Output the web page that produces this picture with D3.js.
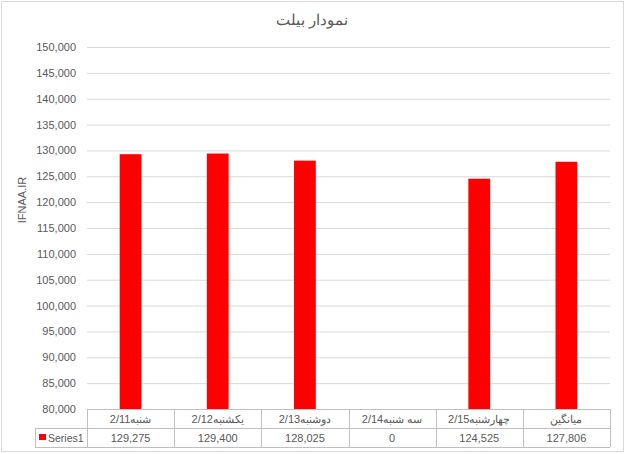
<!DOCTYPE html>
<html>
<head>
<meta charset="utf-8">
<script src="https://cdn.jsdelivr.net/npm/d3@7"></script>
<style>
  body { margin: 0; background: #fff; }
  text { font-family: "Liberation Sans", Arial, sans-serif; fill: #595959; }
</style>
</head>
<body>
<svg id="canvas"></svg>
<script>
// ---- data ----
let categories = ['شنبه2/11', 'یکشنبه2/12', 'دوشنبه2/13', 'سه شنبه2/14', 'چهارشنبه2/15', 'میانگین']
let values = [129275, 129400, 128025, 0, 124525, 127806]
let yTicks = [80000, 85000, 90000, 95000, 100000, 105000, 110000, 115000, 120000, 125000, 130000, 135000, 140000, 145000, 150000]
let seriesName = 'Series1'
let title = 'نمودار بیلت'
let axisTitle = 'IFNAA.IR'

let width = 632
let height = 454
let plotLeft = 87
let plotRight = 610
let plotTop = 47
let plotBottom = 409
let rowH = 19

let canvas = d3.select('#canvas').attr('width', width).attr('height', height)

// chart border
canvas.append('rect')
      .attr('x', 1.5).attr('y', 1.5)
      .attr('width', 622).attr('height', 450)
      .attr('fill', 'none').attr('stroke', '#d9d9d9')

let xScale = d3.scaleBand().domain(categories).range([plotLeft, plotRight])
let yScale = d3.scaleLinear().domain([80000, 150000]).range([plotBottom, plotTop]).clamp(true)

// gridlines
let grid = d3.axisLeft(yScale).tickValues(yTicks).tickSize(-(plotRight - plotLeft)).tickFormat('')
canvas.append('g')
      .attr('transform', 'translate(' + plotLeft + ',0)')
      .call(grid)
      .call(g => g.select('.domain').remove())
      .call(g => g.selectAll('line').attr('stroke', '#d9d9d9'))

// y labels
canvas.append('g').selectAll('text')
      .data(yTicks)
      .enter()
      .append('text')
      .attr('x', 76)
      .attr('y', d => yScale(d) + 4)
      .attr('text-anchor', 'end')
      .style('font-size', '11px')
      .text(d => d3.format(',')(d))

// bars
let barW = xScale.bandwidth() * 0.25
canvas.selectAll('.bar')
      .data(values)
      .enter()
      .append('rect')
      .attr('class', 'bar')
      .attr('fill', '#ff0000')
      .attr('x', (d, i) => xScale(categories[i]) + xScale.bandwidth() / 2 - barW / 2)
      .attr('y', d => yScale(d))
      .attr('width', barW)
      .attr('height', d => plotBottom - yScale(d))

// data table
let tbl = canvas.append('g')
let lineColor = '#bfbfbf'
tbl.append('line').attr('x1', plotLeft).attr('x2', plotRight).attr('y1', plotBottom + 0.5).attr('y2', plotBottom + 0.5).attr('stroke', lineColor)
tbl.append('line').attr('x1', 35).attr('x2', plotRight).attr('y1', plotBottom + rowH + 0.5).attr('y2', plotBottom + rowH + 0.5).attr('stroke', lineColor)
tbl.append('line').attr('x1', 35).attr('x2', plotRight).attr('y1', plotBottom + 2 * rowH + 0.5).attr('y2', plotBottom + 2 * rowH + 0.5).attr('stroke', lineColor)
tbl.append('line').attr('x1', 35.5).attr('x2', 35.5).attr('y1', plotBottom + rowH).attr('y2', plotBottom + 2 * rowH).attr('stroke', lineColor)
let edges = categories.map(c => xScale(c)).concat([plotRight])
tbl.selectAll('.vline')
   .data(edges)
   .enter()
   .append('line')
   .attr('x1', d => Math.round(d) + 0.5).attr('x2', d => Math.round(d) + 0.5)
   .attr('y1', plotBottom).attr('y2', plotBottom + 2 * rowH)
   .attr('stroke', lineColor)

tbl.selectAll('.cat')
   .data(categories)
   .enter()
   .append('text')
   .attr('x', d => xScale(d) + xScale.bandwidth() / 2)
   .attr('y', plotBottom + 14)
   .attr('text-anchor', 'middle')
   .style('font-size', '11px')
   .text(d => d)

tbl.selectAll('.val')
   .data(values)
   .enter()
   .append('text')
   .attr('x', (d, i) => xScale(categories[i]) + xScale.bandwidth() / 2)
   .attr('y', plotBottom + rowH + 14)
   .attr('text-anchor', 'middle')
   .style('font-size', '11px')
   .text(d => d3.format(',')(d))

tbl.append('rect').attr('x', 39).attr('y', 434).attr('width', 7).attr('height', 6).attr('fill', '#ff0000')
tbl.append('text').attr('x', 48).attr('y', plotBottom + rowH + 14).style('font-size', '10.5px').text(seriesName)

// title
canvas.append('text')
      .attr('x', 312).attr('y', 25)
      .attr('text-anchor', 'middle')
      .style('font-size', '15px')
      .text(title)

// axis title
canvas.append('text')
      .attr('transform', 'translate(26,200) rotate(-90)')
      .attr('text-anchor', 'middle')
      .style('font-size', '11px')
      .text(axisTitle)
</script>
</body>
</html>
